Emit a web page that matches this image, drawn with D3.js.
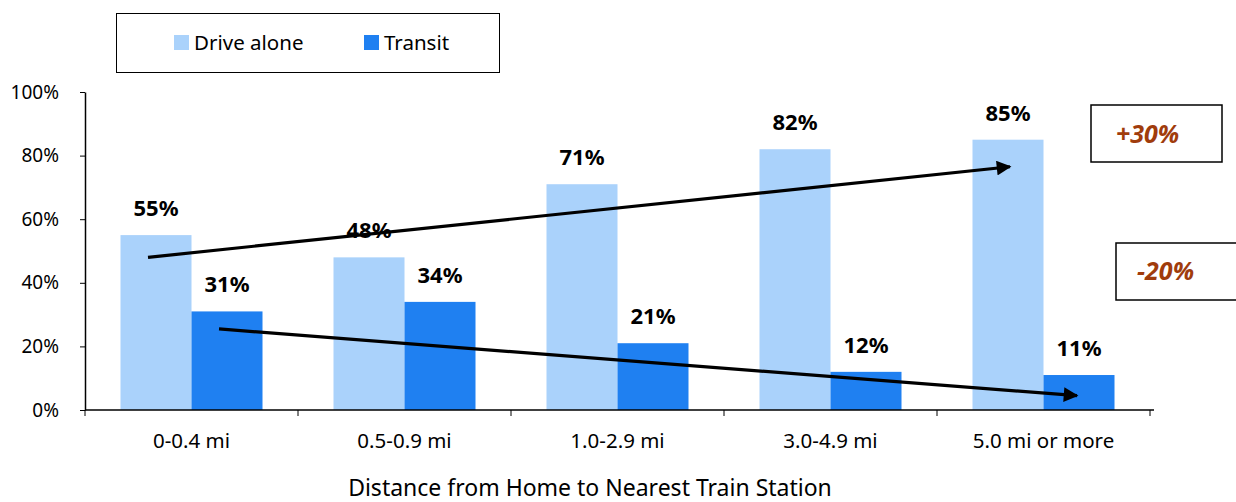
<!DOCTYPE html>
<html>
<head>
<meta charset="utf-8">
<script src="https://cdn.jsdelivr.net/npm/d3@7"></script>
<style>
  body { margin: 0; background: #fff; }
  svg text { font-family: "Noto Sans", "Open Sans", sans-serif; }
</style>
</head>
<body>
<svg id="chart" width="1236" height="502"></svg>
<script>
// chart data
const categories = ["0-0.4 mi", "0.5-0.9 mi", "1.0-2.9 mi", "3.0-4.9 mi", "5.0 mi or more"];
const seriesNames = ["Drive alone", "Transit"];
const driveAlone = [55, 48, 71, 82, 85];
const transit = [31, 34, 21, 12, 11];
const yTicks = [0, 20, 40, 60, 80, 100];
const xTitle = "Distance from Home to Nearest Train Station";
// trend arrows: [category index, series, value]
const trendUp = [[0, "Drive alone", 48], [4, "Drive alone", 76.5]];
const trendDown = [[0, "Transit", 25.5], [4, "Transit", 4.5]];
const callouts = ["+30%", "-20%"];

const colors = { "Drive alone": "#aad2fb", "Transit": "#1f80f1" };

const svg = d3.select("#chart");
const margin = { left: 85, top: 92, right: 86, bottom: 92 };
const width = 1236 - margin.left - margin.right;
const innerHeight = 502 - margin.top - margin.bottom;

const inner = svg.append("g").attr("transform", `translate(${margin.left},${margin.top})`);

const xScale = d3.scaleBand().domain(categories).range([0, width]);
const xSub = d3.scaleBand().domain(seriesNames)
  .range([0, xScale.bandwidth()]).paddingOuter(0.5);
const yScale = d3.scaleLinear().domain([0, 100]).range([innerHeight, 0]);

const rows = categories.map((c, i) => ({ cat: c, "Drive alone": driveAlone[i], "Transit": transit[i] }));

// bars
const groups = inner.selectAll(".grp").data(rows).join("g")
  .attr("transform", d => `translate(${xScale(d.cat)},0)`);

groups.selectAll("rect")
  .data(d => seriesNames.map(s => ({ s, v: d[s] })))
  .join("rect")
    .attr("x", d => xSub(d.s))
    .attr("width", xSub.bandwidth())
    .attr("y", d => yScale(d.v))
    .attr("height", d => innerHeight - yScale(d.v))
    .attr("fill", d => colors[d.s]);

groups.selectAll(".val")
  .data(d => seriesNames.map(s => ({ s, v: d[s] })))
  .join("text")
    .attr("class", "val")
    .attr("x", d => xSub(d.s) + xSub.bandwidth() / 2)
    .attr("y", d => yScale(d.v) - 19)
    .attr("text-anchor", "middle")
    .style("font-size", "22px")
    .style("font-weight", 700)
    .attr("fill", "#000")
    .text(d => d.v + "%");

// axes
const yAxis = inner.append("g")
  .call(d3.axisLeft(yScale).tickValues(yTicks).tickFormat(d => d + "%").tickSize(5).tickSizeOuter(0));
yAxis.select(".domain").attr("stroke", "#000").attr("stroke-width", 1.5);
yAxis.selectAll(".tick line").attr("stroke", "#000");
yAxis.selectAll("text").style("font-size", "19px").attr("fill", "#000").attr("x", -26);

const xAxis = inner.append("g").attr("transform", `translate(0,${innerHeight})`);
xAxis.append("line").attr("x1", 0).attr("x2", width + 4)
  .attr("stroke", "#000").attr("stroke-width", 1.5);
xAxis.selectAll(".bound").data(d3.range(categories.length + 1)).join("line")
  .attr("x1", i => i * xScale.step()).attr("x2", i => i * xScale.step())
  .attr("y1", 0).attr("y2", 6).attr("stroke", "#000");
xAxis.selectAll(".cat").data(categories).join("text")
  .attr("x", d => xScale(d) + xScale.bandwidth() / 2)
  .attr("y", 38)
  .attr("text-anchor", "middle")
  .style("font-size", "20.5px")
  .attr("fill", "#000")
  .text(d => d);

svg.append("text")
  .attr("x", 590)
  .attr("y", 496)
  .attr("text-anchor", "middle")
  .style("font-size", "23px")
  .attr("fill", "#000")
  .text(xTitle);

// trend arrows
svg.append("defs").append("marker")
  .attr("id", "head").attr("viewBox", "0 0 10 10")
  .attr("refX", 9).attr("refY", 5)
  .attr("markerWidth", 5.2).attr("markerHeight", 4.6)
  .attr("orient", "auto")
  .append("path").attr("d", "M0,0L10,5L0,10Z").attr("fill", "#000");

const nudge = { "Drive alone": 2, "Transit": -2 };
const pt = ([ci, s, v], end) => [
  xScale(categories[ci]) + xSub(s) + xSub.bandwidth() / 2 + (end ? nudge[s] : -8),
  yScale(v)
];
[trendUp, trendDown].forEach(tr => {
  inner.append("line")
    .attr("x1", pt(tr[0], false)[0]).attr("y1", pt(tr[0], false)[1])
    .attr("x2", pt(tr[1], true)[0]).attr("y2", pt(tr[1], true)[1])
    .attr("stroke", "#000").attr("stroke-width", 3.2)
    .attr("marker-end", "url(#head)");
});

// callout boxes
const boxes = [
  { t: callouts[0], x: 1091, y: 105, w: 131, h: 57, tx: 1116, ty: 143 },
  { t: callouts[1], x: 1116, y: 243, w: 130, h: 57, tx: 1137, ty: 280 }
];
const cb = svg.selectAll(".callout").data(boxes).join("g");
cb.append("rect")
  .attr("x", d => d.x).attr("y", d => d.y).attr("width", d => d.w).attr("height", d => d.h)
  .attr("fill", "#fff").attr("stroke", "#000").attr("stroke-width", 1.5);
cb.append("text")
  .attr("x", d => d.tx).attr("y", d => d.ty)
  .style("font-size", "25px").style("font-weight", 700).style("font-style", "italic")
  .attr("fill", "#a03c0c")
  .text(d => d.t);

// legend
const legend = svg.append("g");
legend.append("rect").attr("x", 116.5).attr("y", 13.5).attr("width", 383).attr("height", 59)
  .attr("fill", "#fff").attr("stroke", "#000").attr("stroke-width", 1);
const li = legend.selectAll(".li").data(seriesNames).join("g")
  .attr("transform", (d, i) => `translate(${i ? 364 : 174},35)`);
li.append("rect").attr("width", 15).attr("height", 15).attr("fill", d => colors[d]);
li.append("text").attr("x", 20).attr("y", 15)
  .style("font-size", "20.5px").attr("fill", "#000").text(d => d);
</script>
</body>
</html>
